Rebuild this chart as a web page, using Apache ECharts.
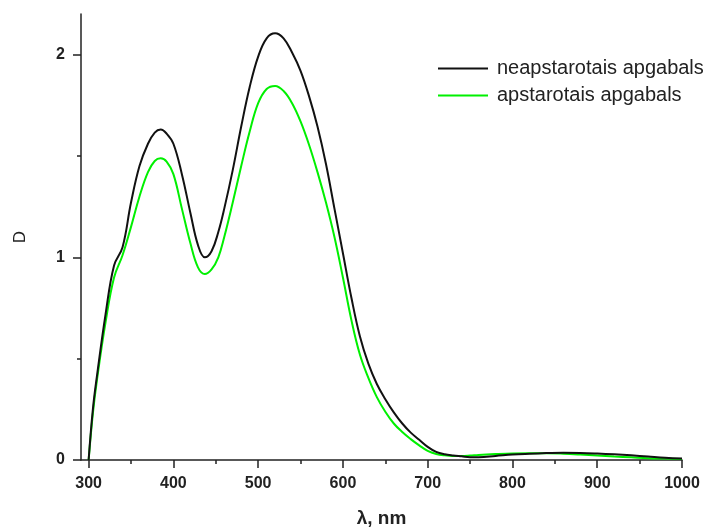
<!DOCTYPE html>
<html><head><meta charset="utf-8">
<script src="https://cdn.jsdelivr.net/npm/echarts@6/dist/echarts.min.js"></script>
<style>html,body{margin:0;padding:0;background:#fff}#c{width:723px;height:527px}</style>
</head><body><div id="c"></div>
<script>
// wavelength (nm) and optical density D
const lambda = [300,305,310,320,330,340,350,360,370,378,385,392,400,410,420,429,437,445,453,460,470,480,490,500,510,520,530,540,550,560,570,580,590,600,610,620,630,640,650,660,670,680,690,700,710,720,730,740,750,760,780,800,820,840,860,880,900,920,940,960,980,1000];
const neapstarotais = [0,0.25,0.42,0.72,0.96,1.05,1.27,1.45,1.56,1.615,1.63,1.61,1.56,1.41,1.22,1.06,1.0,1.03,1.125,1.24,1.43,1.645,1.84,1.99,2.08,2.105,2.08,2.01,1.92,1.795,1.645,1.46,1.24,1.02,0.8,0.61,0.475,0.375,0.3,0.235,0.18,0.135,0.1,0.065,0.04,0.028,0.022,0.018,0.014,0.014,0.02,0.027,0.031,0.034,0.036,0.035,0.032,0.028,0.023,0.017,0.011,0.007];
const apstarotais = [0,0.23,0.4,0.68,0.9,1.01,1.15,1.3,1.42,1.475,1.488,1.472,1.41,1.24,1.07,0.95,0.917,0.94,1.0,1.1,1.27,1.45,1.62,1.76,1.83,1.845,1.82,1.76,1.67,1.555,1.42,1.27,1.1,0.9,0.69,0.52,0.405,0.31,0.238,0.18,0.138,0.103,0.072,0.045,0.03,0.023,0.02,0.02,0.022,0.025,0.029,0.032,0.033,0.033,0.031,0.027,0.022,0.017,0.013,0.009,0.007,0.005];
const seriesNames = ['neapstarotais apgabals','apstarotais apgabals'];
const xTicks = [300,400,500,600,700,800,900,1000];
const xMinorTicks = [350,450,550,650,750,850,950];
const yTicks = [0,1,2];
const yMinorTicks = [0.5,1.5];

const FONT = '"Liberation Sans", Arial, sans-serif';
const AX = '#222';
const chart = echarts.init(document.getElementById('c'), null, {renderer:'canvas'});
const axisCommon = {
  axisLine:{show:true,lineStyle:{color:AX,width:1.5}},
  splitLine:{show:false}
};
chart.setOption({
  animation:false,
  backgroundColor:'#fff',
  grid:{left:81,right:41,top:14,bottom:67,containLabel:false,outerBoundsMode:'none'},
  legend:{
    data:seriesNames, orient:'vertical', left:438, top:58, padding:0,
    icon:'rect', itemWidth:50, itemHeight:2, itemGap:6,
    textStyle:{fontFamily:FONT,fontSize:20,lineHeight:21,color:'#222',padding:[0,0,0,4]}
  },
  xAxis:[
    Object.assign({type:'value',min:291,max:1000,position:'bottom',
      axisTick:{show:true,customValues:xTicks,length:8,lineStyle:{color:AX,width:1.5}},
      axisLabel:{customValues:xTicks,formatter:v=>String(v),fontFamily:FONT,fontWeight:'bold',fontSize:16,color:AX,margin:16},
      name:'λ, nm',nameLocation:'middle',nameGap:49,
      nameTextStyle:{fontFamily:FONT,fontWeight:'bold',fontSize:19,color:AX}},axisCommon),
    {type:'value',min:291,max:1000,position:'bottom',axisLine:{show:false},splitLine:{show:false},
      axisTick:{show:true,customValues:xMinorTicks,length:4,lineStyle:{color:AX,width:1.5}},
      axisLabel:{show:false}}
  ],
  yAxis:[
    Object.assign({type:'value',min:0,max:2.2,position:'left',
      axisTick:{show:true,customValues:yTicks,length:8,lineStyle:{color:AX,width:1.5}},
      axisLabel:{customValues:yTicks,formatter:v=>String(v),fontFamily:FONT,fontWeight:'bold',fontSize:16,color:AX,margin:16},
      name:'D',nameLocation:'middle',nameGap:52,
      nameTextStyle:{fontFamily:FONT,fontSize:17,color:AX}},axisCommon),
    {type:'value',min:0,max:2.2,position:'left',axisLine:{show:false},splitLine:{show:false},
      axisTick:{show:true,customValues:yMinorTicks,length:4,lineStyle:{color:AX,width:1.5}},
      axisLabel:{show:false}}
  ],
  series:[
    {name:seriesNames[1],type:'line',xAxisIndex:0,yAxisIndex:0,showSymbol:false,smooth:0.4,
      color:'#00f000',lineStyle:{width:2,color:'#00f000'},
      data:lambda.map((x,i)=>[x,apstarotais[i]])},
    {name:seriesNames[0],type:'line',xAxisIndex:0,yAxisIndex:0,showSymbol:false,smooth:0.4,
      color:'#111',lineStyle:{width:2,color:'#111'},
      data:lambda.map((x,i)=>[x,neapstarotais[i]])}
  ]
});
</script></body></html>
